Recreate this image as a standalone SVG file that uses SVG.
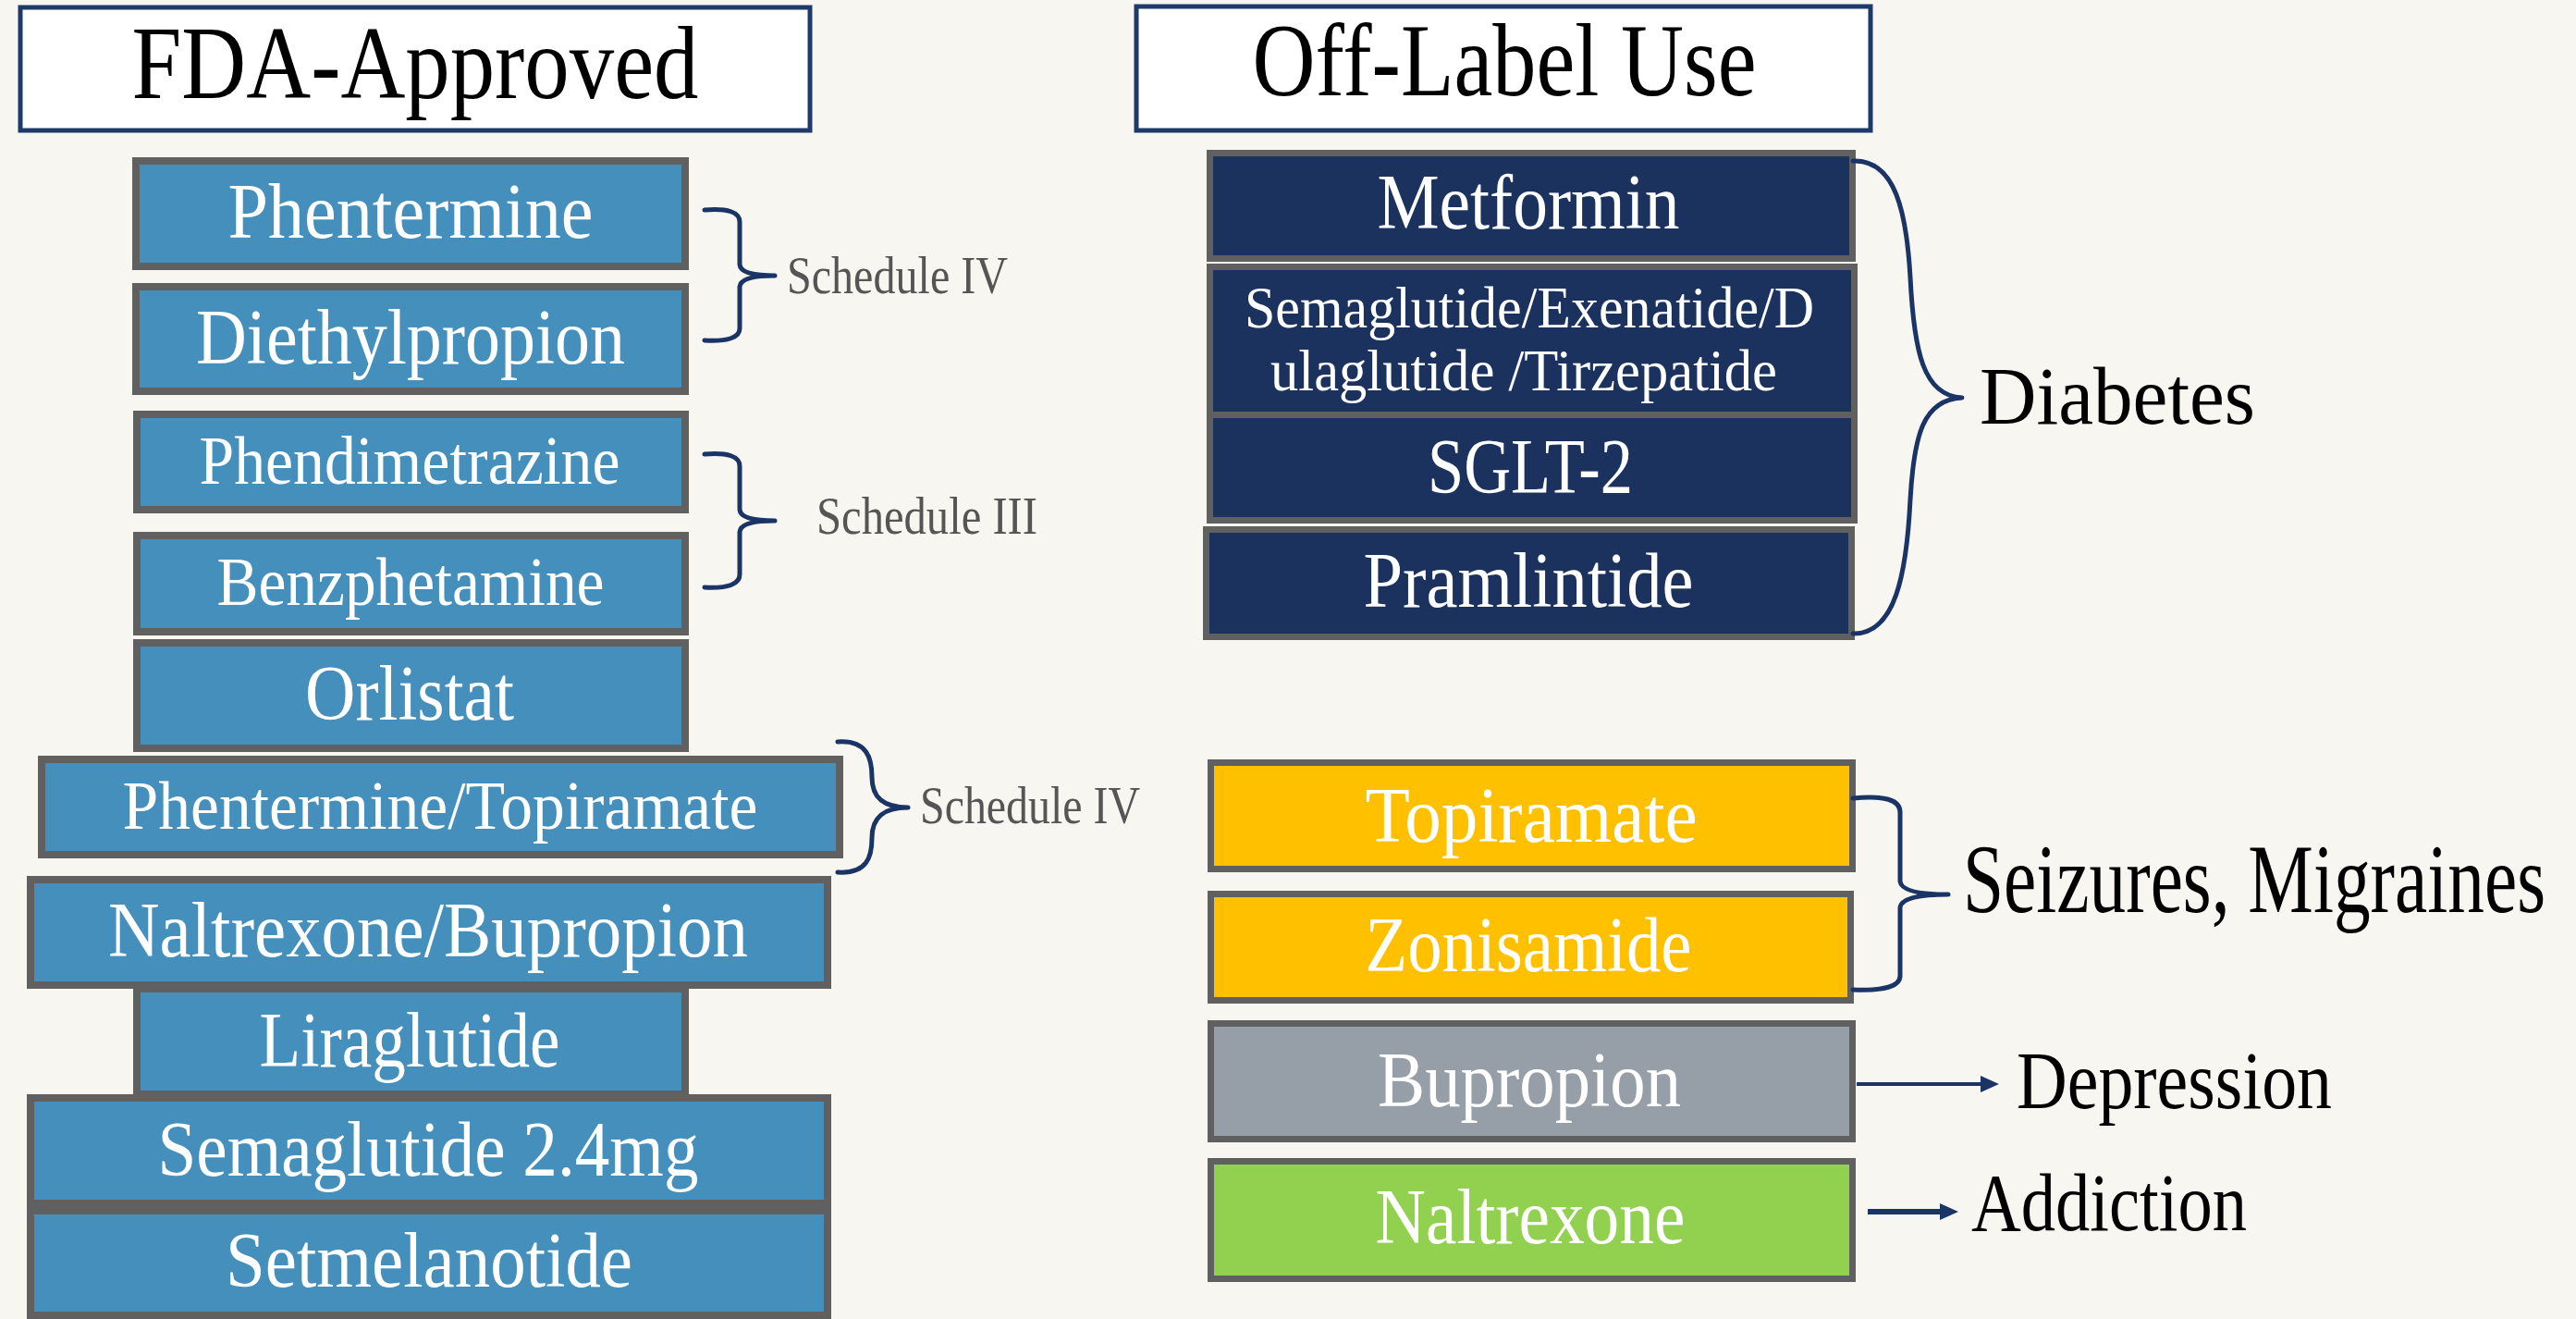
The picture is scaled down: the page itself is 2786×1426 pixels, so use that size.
<svg xmlns="http://www.w3.org/2000/svg" width="2786" height="1426" viewBox="0 0 2786 1426">
<style>
.bg{fill:#f7f6f1}
.title{fill:#ffffff;stroke:#1d3a6b;stroke-width:5}
.tt{font-family:"Liberation Serif","DejaVu Serif",serif;font-size:113px;fill:#000;text-anchor:middle}
.blue{fill:#448fbb;stroke:#606060;stroke-width:8}
.navy{fill:#1b315e;stroke:#606060;stroke-width:7}
.yel{fill:#ffc000;stroke:#606060;stroke-width:7}
.gry{fill:#969ea7;stroke:#606060;stroke-width:7}
.grn{fill:#92d050;stroke:#606060;stroke-width:7}
.bt{font-family:"Liberation Serif","DejaVu Serif",serif;font-size:85px;fill:#ffffff;text-anchor:middle}
.sm{font-size:75px}
.xs{font-size:64px}
.sch{font-family:"Liberation Serif","DejaVu Serif",serif;font-size:56px;fill:#555555}
.lab{font-family:"Liberation Serif","DejaVu Serif",serif;font-size:88px;fill:#000}
.br{fill:none;stroke:#1b3466;stroke-width:5;stroke-linecap:round;stroke-linejoin:round}
.ar{fill:none;stroke:#1b3466}
</style>
<defs>
<marker id="ah" viewBox="0 0 20 20" refX="2" refY="10" markerWidth="20" markerHeight="20" markerUnits="userSpaceOnUse" orient="auto">
<path d="M0,1 L20,10 L0,19 Z" fill="#1b3466"/>
</marker>
</defs>
<rect class="bg" x="0" y="0" width="2786" height="1426"/>

<g id="title-fda">
<rect class="title" x="22" y="8" width="854" height="133"/>
<text class="tt" x="449" y="106" textLength="613" lengthAdjust="spacingAndGlyphs">FDA-Approved</text>
</g>
<g id="title-offlabel">
<rect class="title" x="1229" y="7" width="794" height="134"/>
<text class="tt" x="1627" y="103" textLength="545" lengthAdjust="spacingAndGlyphs">Off-Label Use</text>
</g>

<g id="phentermine">
<rect class="blue" x="147" y="174" width="594" height="114"/>
<text class="bt" x="444" y="257" textLength="395" lengthAdjust="spacingAndGlyphs">Phentermine</text>
</g>
<g id="diethylpropion">
<rect class="blue" x="147" y="310" width="594" height="113"/>
<text class="bt" x="444" y="393" textLength="464" lengthAdjust="spacingAndGlyphs">Diethylpropion</text>
</g>
<g id="phendimetrazine">
<rect class="blue" x="148" y="448" width="593" height="103"/>
<text class="bt sm" x="443" y="523" textLength="455" lengthAdjust="spacingAndGlyphs">Phendimetrazine</text>
</g>
<g id="benzphetamine">
<rect class="blue" x="148" y="579" width="593" height="104"/>
<text class="bt sm" x="444" y="654" textLength="419" lengthAdjust="spacingAndGlyphs">Benzphetamine</text>
</g>
<g id="orlistat">
<rect class="blue" x="148" y="695" width="593" height="114"/>
<text class="bt" x="443" y="778" textLength="226" lengthAdjust="spacingAndGlyphs">Orlistat</text>
</g>
<g id="phentermine-topiramate">
<rect class="blue" x="45" y="821" width="863" height="103"/>
<text class="bt sm" x="476" y="896" textLength="687" lengthAdjust="spacingAndGlyphs">Phentermine/Topiramate</text>
</g>
<g id="naltrexone-bupropion">
<rect class="blue" x="33" y="951" width="862" height="114"/>
<text class="bt" x="463" y="1034" textLength="692" lengthAdjust="spacingAndGlyphs">Naltrexone/Bupropion</text>
</g>
<g id="liraglutide">
<rect class="blue" x="148" y="1069" width="593" height="114"/>
<text class="bt" x="443" y="1153" textLength="325" lengthAdjust="spacingAndGlyphs">Liraglutide</text>
</g>
<g id="semaglutide">
<rect class="blue" x="33" y="1187" width="862" height="114"/>
<text class="bt" x="463" y="1271" textLength="585" lengthAdjust="spacingAndGlyphs">Semaglutide 2.4mg</text>
</g>
<g id="setmelanotide">
<rect class="blue" x="33" y="1309" width="862" height="113"/>
<text class="bt" x="464" y="1391" textLength="440" lengthAdjust="spacingAndGlyphs">Setmelanotide</text>
</g>

<g id="metformin">
<rect class="navy" x="1308.5" y="165.5" width="695" height="114"/>
<text class="bt" x="1653" y="247" textLength="327" lengthAdjust="spacingAndGlyphs">Metformin</text>
</g>
<g id="glp1">
<rect class="navy" x="1308.5" y="288.5" width="697" height="160"/>
<text class="bt xs" x="1654" y="354" textLength="616" lengthAdjust="spacingAndGlyphs">Semaglutide/Exenatide/D</text>
<text class="bt xs" x="1648" y="422" textLength="548" lengthAdjust="spacingAndGlyphs">ulaglutide /Tirzepatide</text>
</g>
<g id="sglt2">
<rect class="navy" x="1308.5" y="448.5" width="697" height="114"/>
<text class="bt" x="1655" y="533" textLength="222" lengthAdjust="spacingAndGlyphs">SGLT-2</text>
</g>
<g id="pramlintide">
<rect class="navy" x="1304.5" y="572.5" width="698" height="116"/>
<text class="bt" x="1653" y="656" textLength="357" lengthAdjust="spacingAndGlyphs">Pramlintide</text>
</g>
<g id="topiramate">
<rect class="yel" x="1309.5" y="824.5" width="694" height="115"/>
<text class="bt" x="1656" y="910" textLength="359" lengthAdjust="spacingAndGlyphs">Topiramate</text>
</g>
<g id="zonisamide">
<rect class="yel" x="1309.5" y="966.5" width="692" height="115"/>
<text class="bt" x="1653" y="1050" textLength="353" lengthAdjust="spacingAndGlyphs">Zonisamide</text>
</g>
<g id="bupropion">
<rect class="gry" x="1309.5" y="1106.5" width="694" height="125"/>
<text class="bt" x="1654" y="1196" textLength="328" lengthAdjust="spacingAndGlyphs">Bupropion</text>
</g>
<g id="naltrexone">
<rect class="grn" x="1309.5" y="1255.5" width="694" height="127"/>
<text class="bt" x="1655" y="1344" textLength="335" lengthAdjust="spacingAndGlyphs">Naltrexone</text>
</g>

<g id="labels">
<text class="sch" x="851" y="317" textLength="239" lengthAdjust="spacingAndGlyphs">Schedule IV</text>
<text class="sch" x="883" y="577" textLength="239" lengthAdjust="spacingAndGlyphs">Schedule III</text>
<text class="sch" x="995" y="890" textLength="238" lengthAdjust="spacingAndGlyphs">Schedule IV</text>
<text class="lab" x="2141" y="458" font-size="96" textLength="298" lengthAdjust="spacingAndGlyphs">Diabetes</text>
<text class="lab" transform="translate(2123,986) scale(1,1.2)" x="0" y="0" font-size="74" textLength="630" lengthAdjust="spacingAndGlyphs">Seizures, Migraines</text>
<text class="lab" x="2181" y="1198" font-size="84" textLength="341" lengthAdjust="spacingAndGlyphs">Depression</text>
<text class="lab" x="2132" y="1330" font-size="83" textLength="298" lengthAdjust="spacingAndGlyphs">Addiction</text>
</g>

<g id="connectors">
<path class="br" d="M762,227 Q800,224 800,240 L800,286 Q801,298 838,298 Q801,298 800,310 L800,355 Q800,370 762,368"/>
<path class="br" d="M762,491 Q800,488 800,504 L800,551 Q801,563 838,563 Q801,563 800,575 L800,621 Q800,637 762,635"/>
<path class="br" d="M906,802 C938,800 943,820 943,840 C943,862 955,873 982,873 C955,873 943,884 943,906 C943,926 938,945 906,943"/>
<path class="br" d="M2004,174 C2050,172 2062,230 2066,300 C2070,380 2080,428 2122,430 C2080,432 2070,470 2066,540 C2062,620 2050,686 2004,685"/>
<path class="br" d="M2004,863 Q2055,858 2055,878 L2055,953 Q2057,967 2107,967 Q2057,967 2055,981 L2055,1055 Q2055,1072 2004,1070"/>
<path class="ar" stroke-width="4" d="M2008,1172 L2144,1172" marker-end="url(#ah)"/>
<path class="ar" stroke-width="6" d="M2020,1310 L2100,1310" marker-end="url(#ah)"/>
</g>
</svg>
